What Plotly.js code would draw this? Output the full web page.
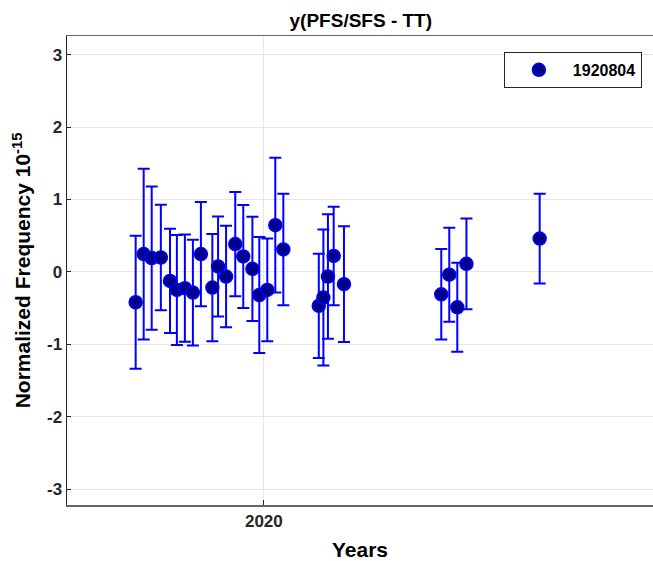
<!DOCTYPE html>
<html>
<head>
<meta charset="utf-8">
<script src="https://cdn.plot.ly/plotly-3.0.1.min.js"></script>
<style>html,body{margin:0;padding:0;background:#fff;}#chart{width:653px;height:561px;}</style>
</head>
<body>
<div id="chart"></div>
<script>
const seriesName = '1920804';
const dates = [
  '2019-09-11','2019-09-18','2019-09-25','2019-10-03','2019-10-11','2019-10-17','2019-10-24','2019-10-31',
  '2019-11-07','2019-11-17','2019-11-22','2019-11-29','2019-12-07','2019-12-14','2019-12-22','2019-12-28',
  '2020-01-04','2020-01-11','2020-01-18',
  '2020-02-18','2020-02-22','2020-02-26','2020-03-02','2020-03-11',
  '2020-06-04','2020-06-11','2020-06-18','2020-06-26',
  '2020-08-29'
];
const values = [
  -0.42, 0.245, 0.19, 0.198, -0.125, -0.25, -0.226, -0.286,
  0.245, -0.217, 0.074, -0.065, 0.383, 0.212, 0.041, -0.32,
  -0.25, 0.645, 0.31,
  -0.47, -0.355, -0.065, 0.22, -0.17,
  -0.31, -0.04, -0.49, 0.11,
  0.46
];
const errors = [
  0.92, 1.18, 0.99, 0.73, 0.72, 0.76, 0.74, 0.73,
  0.72, 0.74, 0.69, 0.70, 0.72, 0.71, 0.72, 0.80,
  0.71, 0.93, 0.77,
  0.72, 0.94, 0.86, 0.68, 0.80,
  0.625, 0.65, 0.615, 0.625,
  0.62
];
const xTickVals = ['2020-01-01'];
const xTickText = ['2020'];
const yTickVals = [-3, -2, -1, 0, 1, 2, 3];
const yTickText = ['-3', '-2', '-1', '0', '1', '2', '3'];

const FONT = 'Liberation Sans, Arial, Helvetica, sans-serif';

const trace = {
  type: 'scatter',
  mode: 'markers',
  name: seriesName,
  x: dates,
  y: values,
  error_y: {type: 'data', array: errors, visible: true, color: '#0000ff', thickness: 2, width: 6},
  marker: {size: 13, color: '#00008b', line: {color: '#0000ff', width: 1.5}}
};

const layout = {
  width: 653, height: 561,
  margin: {l: 67, r: 0, t: 36, b: 56},
  paper_bgcolor: '#ffffff', plot_bgcolor: '#ffffff',
  font: {family: FONT, color: '#262626'},
  title: {text: '<b>y(PFS/SFS - TT)</b>', x: 0.5525, xanchor: 'center', y: 0.963, yanchor: 'middle',
          font: {family: FONT, size: 19, color: '#000'}},
  showlegend: true,
  legend: {x: 0.981, xanchor: 'right', y: 0.966, yanchor: 'top', bgcolor: '#fff', itemwidth: 58,
           bordercolor: '#262626', borderwidth: 1, font: {family: FONT, size: 16, color: '#000', weight: 'bold'}},
  xaxis: {
    type: 'date', range: ['2019-07-13', '2020-12-06'],
    tickvals: xTickVals, ticktext: xTickText,
    tickfont: {family: FONT, size: 17, color: '#262626', weight: 'bold'},
    ticks: 'inside', ticklen: 5, tickcolor: '#262626',
    showgrid: true, gridcolor: '#e6e6e6', zeroline: false,
    showline: true, linecolor: '#666', linewidth: 1.5, mirror: true,
    title: {text: '<b>Years</b>', font: {family: FONT, size: 21, color: '#000'}, standoff: 13}
  },
  yaxis: {
    range: [-3.22, 3.257],
    tickvals: yTickVals, ticktext: yTickText,
    tickfont: {family: FONT, size: 17, color: '#262626', weight: 'bold'},
    ticks: 'inside', ticklen: 4, tickcolor: '#262626',
    showgrid: true, gridcolor: '#e6e6e6', zeroline: false,
    showline: true, linecolor: '#262626', linewidth: 1.5,
    title: {text: '<b>Normalized Frequency 10<sup>-15</sup></b>', font: {family: FONT, size: 21, color: '#000'}, standoff: 10}
  }
};

Plotly.newPlot('chart', [trace], layout, {displayModeBar: false, staticPlot: true});
</script>
</body>
</html>
